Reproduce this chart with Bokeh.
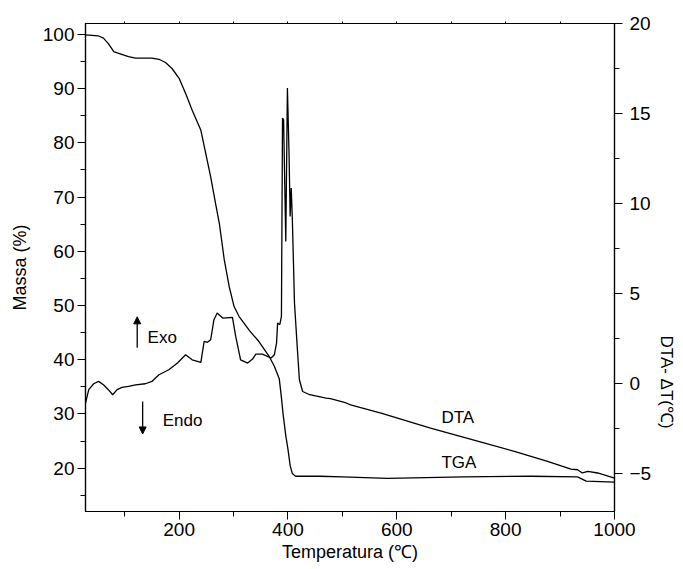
from bokeh.plotting import figure
from bokeh.models import Range1d, LinearAxis, Label, Arrow, NormalHead, FixedTicker, Title
from bokeh.embed import file_html
from bokeh.resources import INLINE

# ---- data ----
tga_temp = [28, 52, 61, 70, 80, 89, 107, 120, 150, 163, 175, 187, 200, 212, 224, 240, 249, 258,
            267, 274, 283, 292, 301, 310, 329, 347, 366, 375, 384, 388, 391, 396, 400, 404, 408,
            414, 430, 458, 500, 583, 724, 847, 932, 948, 1000]
tga_mass = [99.9, 99.7, 99.3, 98.3, 96.8, 96.5, 95.9, 95.6, 95.6, 95.4, 94.8, 93.7, 91.9, 89.1,
            86.0, 82.3, 78.0, 73.7, 68.8, 65.1, 58.4, 53.5, 49.8, 48.0, 45.4, 43.3, 40.5, 38.8,
            36.5, 33.0, 30.0, 26.0, 23.5, 20.5, 19.0, 18.5, 18.5, 18.5, 18.4, 18.1, 18.4, 18.5,
            18.4, 17.6, 17.4]

dta_temp = [28, 34, 43, 52, 61, 70, 78, 86, 95, 107, 120, 138, 150, 163, 181, 197, 212, 224, 240,
            246, 252, 258, 264, 270, 280, 298, 304, 313, 326, 335, 341, 353, 369, 375, 379, 381,
            385, 388, 390, 392, 396, 399, 402, 404, 406, 408, 412, 417, 421, 427, 440, 470, 478,
            507, 515, 571, 662, 755, 816, 877, 920, 932, 941, 951, 969, 1000]
dta_dt = [-1.07, -0.33, 0.0, 0.13, -0.06, -0.33, -0.61, -0.33, -0.2, -0.15, -0.06, 0.0, 0.13, 0.5,
          0.78, 1.15, 1.61, 1.33, 1.19, 2.35, 2.30, 2.44, 3.56, 3.93, 3.65, 3.69, 2.63, 1.33, 1.15,
          1.37, 1.65, 1.65, 1.43, 1.61, 2.26, 3.37, 3.28, 3.74, 14.76, 14.67, 7.9, 16.43, 12.8,
          9.3, 10.87, 9.2, 4.48, 2.07, 0.22, -0.43, -0.61, -0.8, -0.83, -1.07, -1.17, -1.63,
          -2.46, -3.24, -3.76, -4.31, -4.74, -4.78, -4.96, -4.87, -4.96, -5.24]

x_major = [200, 400, 600, 800, 1000]
x_minor = [100, 300, 500, 700, 900]
mass_major = [20, 30, 40, 50, 60, 70, 80, 90, 100]
mass_minor = [15, 25, 35, 45, 55, 65, 75, 85, 95]
dta_major = [-5, 0, 5, 10, 15, 20]
dta_minor = [-2.5, 2.5, 7.5, 12.5, 17.5]

FONT = "Liberation Sans"

p = figure(width=683, height=569, output_backend="svg", toolbar_location=None,
           x_range=Range1d(28, 1000), y_range=Range1d(12.0, 102.0),
           min_border_left=85, min_border_top=23, min_border_right=69, min_border_bottom=58)
p.extra_y_ranges = {"dta": Range1d(-7.1, 20.02)}
p.xgrid.visible = False
p.ygrid.visible = False
p.outline_line_color = "black"
p.outline_line_width = 1.2
p.background_fill_color = "white"
p.border_fill_color = "white"


def style_axis(ax, standoff):
    ax.axis_line_color = "black"
    ax.axis_line_width = 1.2
    ax.major_tick_line_color = "black"
    ax.minor_tick_line_color = "black"
    ax.major_tick_out = 8
    ax.major_tick_in = 0
    ax.minor_tick_out = 5
    ax.minor_tick_in = 0
    ax.major_label_text_font = FONT
    ax.major_label_text_font_size = "19px"
    ax.major_label_text_color = "black"
    ax.major_label_standoff = standoff
    ax.axis_label_text_font = FONT
    ax.axis_label_text_font_size = "18px"
    ax.axis_label_text_font_style = "normal"
    ax.axis_label_text_color = "black"


xa = p.xaxis[0]
xa.ticker = FixedTicker(ticks=x_major, minor_ticks=x_minor)
style_axis(xa, 3)
xa.axis_label = "Temperatura (℃)"
xa.axis_label_standoff = 3

ya = p.yaxis[0]
ya.ticker = FixedTicker(ticks=mass_major, minor_ticks=mass_minor)
style_axis(ya, 3)
ya.axis_label = "Massa (%)"
ya.axis_label_standoff = 10

ra = LinearAxis(y_range_name="dta", ticker=FixedTicker(ticks=dta_major, minor_ticks=dta_minor))
style_axis(ra, 7)
p.add_layout(ra, "right")

p.add_layout(Title(text="DTA- ΔT(℃)", align="left", offset=312, text_font=FONT,
                   text_font_size="17px", text_font_style="normal", text_color="black",
                   standoff=4), "right")

ta = LinearAxis(ticker=FixedTicker(ticks=x_minor + x_major[:-1], minor_ticks=[]))
ta.axis_line_color = "black"
ta.major_tick_line_color = "black"
ta.major_tick_out = 2
ta.major_tick_in = 0
ta.major_label_text_font_size = "1px"
ta.major_label_text_alpha = 0
ta.major_label_standoff = 0
p.add_layout(ta, "above")

p.line(tga_temp, tga_mass, line_color="black", line_width=1.3)
p.line(dta_temp, dta_dt, line_color="black", line_width=1.3, y_range_name="dta")

# annotations
head = dict(size=7, fill_color="black", line_color="black")
p.add_layout(Arrow(end=NormalHead(**head), x_start=123, y_start=42.2, x_end=123, y_end=47.9,
                   line_color="black", line_width=1.3))
p.add_layout(Arrow(end=NormalHead(**head), x_start=133, y_start=32.3, x_end=133, y_end=26.3,
                   line_color="black", line_width=1.3))

for txt, x, y in [("Exo", 142, 44.0), ("Endo", 170, 28.8), ("DTA", 682, 29.3), ("TGA", 682, 21.0)]:
    p.add_layout(Label(x=x, y=y, text=txt, text_font=FONT, text_font_size="17px",
                       text_baseline="middle", text_align="left", text_color="black"))

open("out.html", "w").write(file_html(p, INLINE))
